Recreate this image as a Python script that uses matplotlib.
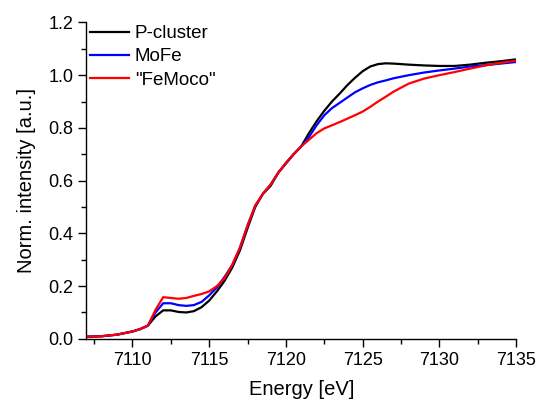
import matplotlib
matplotlib.use('Agg')
import matplotlib.pyplot as plt
from matplotlib.ticker import MultipleLocator

plt.rcParams['font.family'] = ['Liberation Sans', 'DejaVu Sans']

energy = [7107, 7108, 7109, 7110, 7110.5, 7111, 7111.5, 7112, 7112.5, 7113,
          7113.5, 7114, 7114.5, 7115, 7115.5, 7116, 7116.5, 7117, 7117.5, 7118,
          7118.5, 7119, 7119.5, 7120, 7120.5, 7121, 7121.5, 7122, 7122.5, 7123,
          7123.5, 7124, 7124.5, 7125, 7125.5, 7126, 7126.5, 7127, 7128, 7129,
          7130, 7131, 7132, 7133, 7134, 7135]

p_cluster = [0.008, 0.010, 0.016, 0.028, 0.037, 0.050, 0.085, 0.108, 0.108, 0.102,
             0.100, 0.105, 0.120, 0.145, 0.180, 0.220, 0.270, 0.335, 0.420, 0.500,
             0.550, 0.580, 0.630, 0.665, 0.700, 0.730, 0.780, 0.825, 0.865, 0.900,
             0.930, 0.962, 0.990, 1.015, 1.033, 1.042, 1.045, 1.044, 1.040, 1.037,
             1.035, 1.035, 1.040, 1.047, 1.053, 1.060]

mofe = [0.008, 0.010, 0.016, 0.028, 0.037, 0.050, 0.100, 0.135, 0.135, 0.128,
        0.125, 0.128, 0.140, 0.165, 0.195, 0.235, 0.280, 0.345, 0.430, 0.505,
        0.550, 0.585, 0.630, 0.667, 0.700, 0.730, 0.765, 0.810, 0.848, 0.875,
        0.895, 0.915, 0.935, 0.950, 0.963, 0.973, 0.980, 0.988, 1.000, 1.010,
        1.018, 1.025, 1.033, 1.038, 1.044, 1.050]

femoco = [0.008, 0.010, 0.016, 0.028, 0.037, 0.050, 0.110, 0.158, 0.155, 0.152,
          0.155, 0.163, 0.170, 0.180, 0.200, 0.230, 0.280, 0.345, 0.430, 0.505,
          0.550, 0.585, 0.630, 0.667, 0.700, 0.730, 0.755, 0.780, 0.798, 0.810,
          0.822, 0.835, 0.848, 0.862, 0.880, 0.900, 0.918, 0.937, 0.968, 0.987,
          1.000, 1.012, 1.025, 1.037, 1.047, 1.055]

fig = plt.figure(figsize=(5.37, 4.01), dpi=100)
ax = fig.add_axes([0.161, 0.155, 0.8, 0.789])

ax.plot(energy, p_cluster, color='black', lw=1.6, label='P-cluster')
ax.plot(energy, mofe, color='#0000ff', lw=1.6, label='MoFe')
ax.plot(energy, femoco, color='#ff0000', lw=1.6, label='"FeMoco"')

ax.set_xlim(7107, 7135)
ax.set_ylim(0, 1.2)
ax.xaxis.set_major_locator(MultipleLocator(5))
ax.xaxis.set_minor_locator(MultipleLocator(2.5))
ax.yaxis.set_major_locator(MultipleLocator(0.2))
ax.yaxis.set_minor_locator(MultipleLocator(0.1))
ax.yaxis.set_major_formatter(plt.FormatStrFormatter('%.1f'))

for s in ['top', 'right']:
    ax.spines[s].set_visible(False)
for s in ['left', 'bottom']:
    ax.spines[s].set_linewidth(1.0)
ax.tick_params(which='major', direction='out', length=6, width=1, labelsize=13)
ax.tick_params(which='minor', direction='out', length=3.5, width=1)

ax.set_xlabel('Energy [eV]', fontsize=14.5, labelpad=8)
ax.set_ylabel('Norm. intensity [a.u.]', fontsize=14.5, labelpad=9)

ax.legend(loc='upper left', frameon=False, fontsize=13.5, handlelength=2.1,
          handletextpad=0.3, labelspacing=0.32, borderaxespad=0.0,
          bbox_to_anchor=(-0.01, 1.015))

fig.savefig('out.png', dpi=100)
